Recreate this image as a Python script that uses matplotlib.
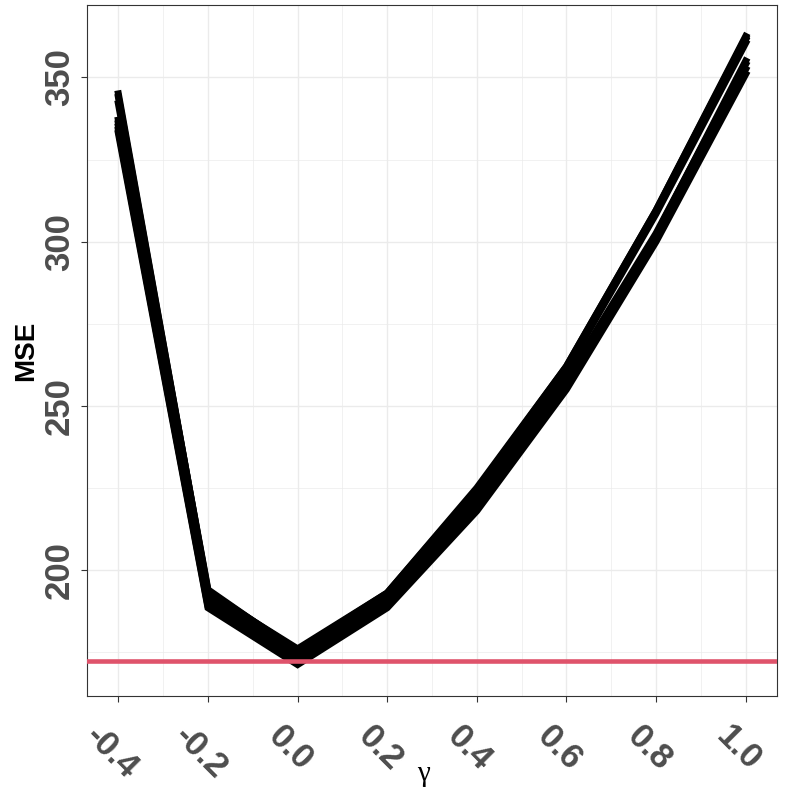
import matplotlib.pyplot as plt
import matplotlib.transforms as mtransforms
import numpy as np

# MSE curves over gamma, one per run
gamma = [-0.4, -0.2, 0.0, 0.2, 0.4, 0.6, 0.8, 1.0]
runs = [
    [345, 193.0, 176.0, 193.0, 225.0, 262.0, 309.5, 362.5],
    [342, 194.0, 175.0, 192.0, 224.0, 261.5, 309.0, 361.5],
    [337, 192.0, 174.0, 191.0, 222.5, 261.0, 308.5, 360.5],
    [344, 193.5, 175.5, 193.0, 224.5, 262.0, 309.5, 362.0],
    [335, 190.0, 173.0, 190.0, 220.0, 257.0, 302.0, 355.0],
    [336, 191.0, 173.5, 190.5, 221.0, 258.0, 302.5, 354.0],
    [334, 189.0, 172.0, 189.0, 219.0, 256.0, 301.0, 352.5],
    [333, 188.5, 171.2, 188.5, 218.0, 255.0, 300.0, 351.0],
]
ref_mse = 172.4

x_ticks = [-0.4, -0.2, 0.0, 0.2, 0.4, 0.6, 0.8, 1.0]
x_minor = [-0.3, -0.1, 0.1, 0.3, 0.5, 0.7, 0.9]
y_ticks = [200, 250, 300, 350]
y_minor = [175, 225, 275, 325]

fig = plt.figure(figsize=(8, 8), dpi=100)
ax = fig.add_axes([0.10875, 0.13, 0.8625, 0.86375])

for r in runs:
    ax.plot(gamma, r, color='black', lw=5.0, solid_joinstyle='miter', zorder=3)

ax.axhline(ref_mse, color='#DF536B', lw=3.3, zorder=4)

allv = np.array(runs)
lo, hi = min(allv.min(), ref_mse), allv.max()
pad = (hi - lo) * 0.05
ax.set_ylim(lo - pad, hi + pad)
ax.set_xlim(-0.4 - 0.07, 1.0 + 0.07)

ax.set_xticks(x_ticks)
ax.set_xticklabels(['%.1f' % v for v in x_ticks])
ax.set_xticks(x_minor, minor=True)
ax.set_yticks(y_ticks)
ax.set_yticks(y_minor, minor=True)

ax.grid(which='major', color='#EBEBEB', lw=1.0, zorder=0)
ax.grid(which='minor', color='#EBEBEB', lw=0.5, zorder=0)
ax.set_axisbelow(True)

for s in ax.spines.values():
    s.set_color('#333333')
    s.set_linewidth(0.8)

ax.tick_params(which='major', length=4, width=0.8, color='#333333')
ax.tick_params(which='minor', length=0)
ax.tick_params(axis='x', pad=13)
ax.tick_params(axis='y', pad=4)

for lab in ax.get_xticklabels():
    lab.set_rotation(-45)
    lab.set_ha('center')
    lab.set_va('top')
    lab.set_fontsize(25)
    lab.set_fontweight('bold')
    lab.set_color('#4D4D4D')
    lab.set_family('Liberation Sans')
    lab.set_transform(lab.get_transform() + mtransforms.ScaledTranslation(-0.07, 0, fig.dpi_scale_trans))

for lab in ax.get_yticklabels():
    lab.set_rotation(90)
    lab.set_va('center')
    lab.set_fontsize(25)
    lab.set_fontweight('bold')
    lab.set_color('#4D4D4D')
    lab.set_family('Liberation Sans')

ax.set_ylabel('MSE', fontsize=20, fontweight='bold', family='Liberation Sans',
              ha='center', va='center')
ax.yaxis.set_label_coords(-0.088, 0.5)
ax.set_xlabel('γ', fontsize=21, family='Liberation Serif', ha='center', va='center')
ax.xaxis.set_label_coords(0.487, -0.113)

fig.savefig('out.png', dpi=100)
